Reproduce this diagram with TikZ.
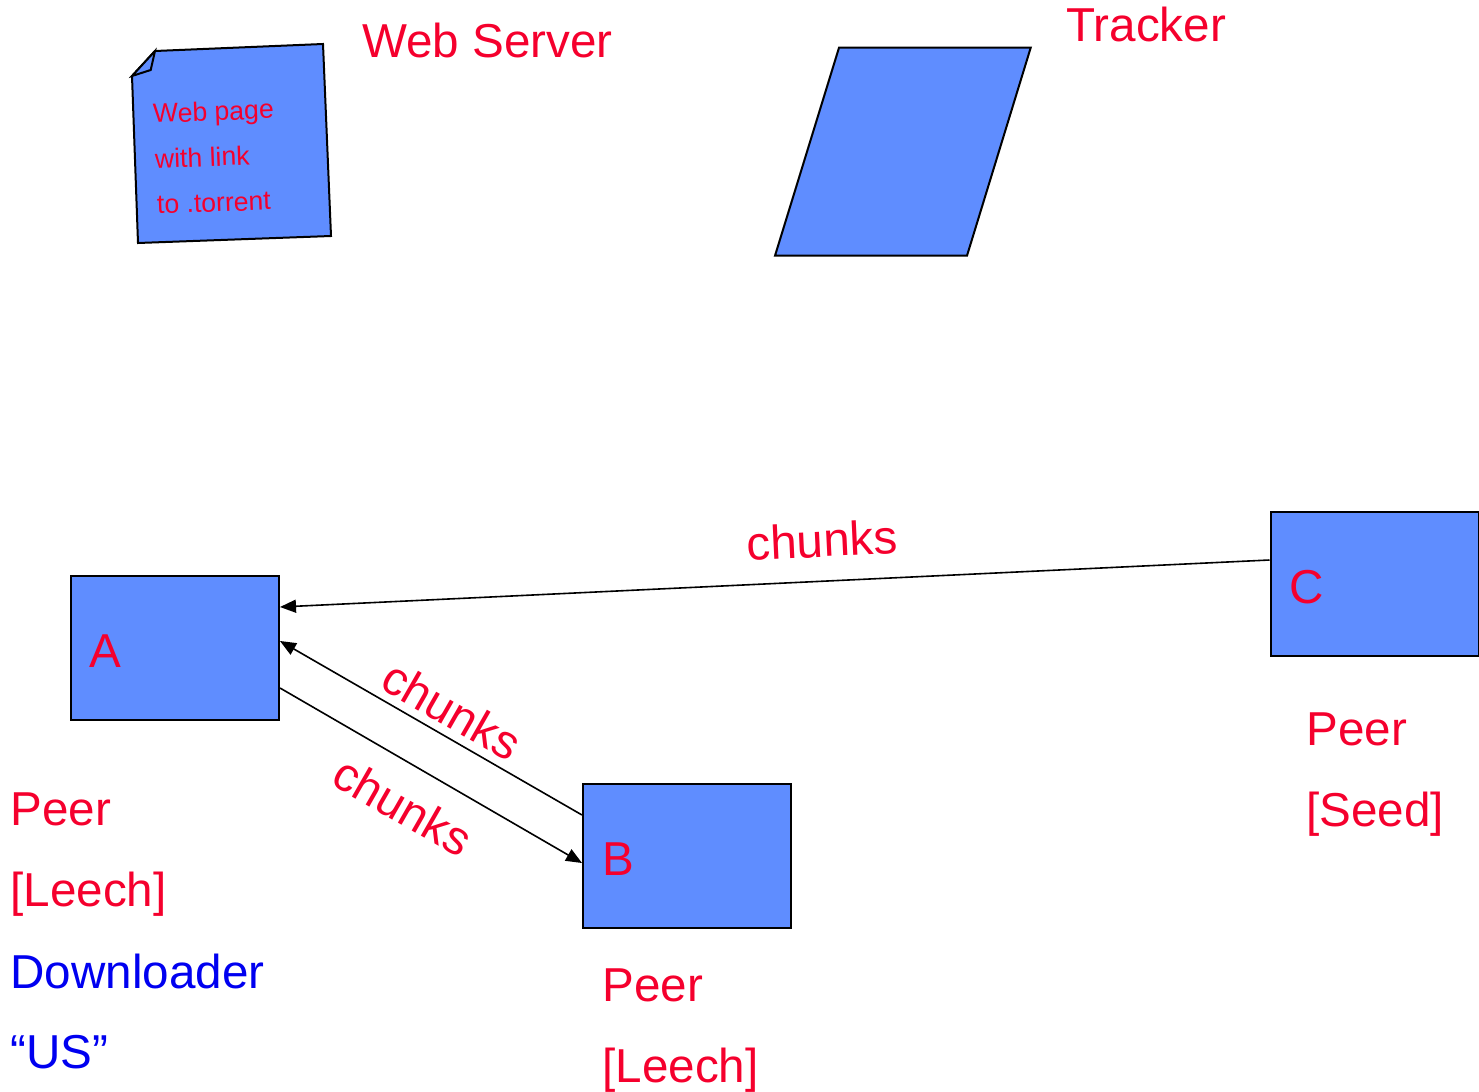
\documentclass[tikz,border=0pt]{standalone}
\usepackage{fontspec}
\setmainfont{Liberation Sans}
\usetikzlibrary{arrows.meta}
\definecolor{boxblue}{RGB}{95,141,255}
\definecolor{txtred}{RGB}{245,0,45}
\definecolor{txtblue}{RGB}{0,0,240}
\tikzset{
  peerbox/.style={draw=black, line width=1pt, fill=boxblue, minimum width=104pt, minimum height=72pt, inner sep=0pt},
  bigtxt/.style={font=\fontsize{23.8pt}{28pt}\selectfont, text=txtred, inner sep=0pt, anchor=base west},
  bluetxt/.style={bigtxt, text=txtblue},
  notetxt/.style={font=\fontsize{13.3pt}{15pt}\selectfont, text=txtred, inner sep=0pt, anchor=base west, rotate=2.2},
  chunklbl/.style={font=\fontsize{23.8pt}{28pt}\selectfont, text=txtred, inner sep=0pt, anchor=center},
  conn/.style={line width=0.8pt, -{Triangle[length=8pt,width=6.5pt]}},
  shapeline/.style={draw=black, line width=1pt, fill=boxblue, line join=miter}
}
\begin{document}
\begin{tikzpicture}[x=0.5pt, y=-0.5pt]
\useasboundingbox (0,0) rectangle (1479,1092);

% Web page note
\draw[shapeline] (155,51) -- (323,44) -- (331,236) -- (138,243) -- (132,76) -- cycle;
\draw[shapeline] (155,51) -- (150.7,70) -- (132,76) -- cycle;
\node[notetxt] (np1) at (153,123) {Web page};
\node[notetxt] (np2) at (155,168.5) {with link};
\node[notetxt] (np3) at (157,214) {to .torrent};
\node[bigtxt] (ws) at (362,57.5) {Web Server};

% Tracker
\draw[shapeline] (839,47.7) -- (1030.7,47.7) -- (967,255.7) -- (775,255.7) -- cycle;
\node[bigtxt] (tr) at (1066,41.5) {Tracker};

% Peers
\node[peerbox] (A) at (175,647.5) {};
\node[peerbox] (B) at (687,856) {};
\node[peerbox] (C) at (1374.5,584) {};
\node[bigtxt] (lA) at (89,667) {A};
\node[bigtxt] (lB) at (602,875) {B};
\node[bigtxt] (lC) at (1289,603) {C};

% Connectors
\draw[conn] ([yshift=12pt]C.west) -- ([yshift=20.25pt]A.east);
\draw[conn] ([yshift=20.5pt]B.west) -- ([yshift=3.25pt]A.east);
\draw[conn] ([yshift=-20.25pt]A.east) -- ([yshift=-3.5pt]B.west);

\node[chunklbl, rotate=2.7] (k1) at (822,540) {chunks};
\node[chunklbl, rotate=-29.8] (k2) at (452,710) {chunks};
\node[chunklbl, rotate=-29.8] (k3) at (403,806) {chunks};

% Labels
\node[bigtxt] (pa1) at (10,825) {Peer};
\node[bigtxt] (pa2) at (10,906) {[Leech]};
\node[bluetxt] (pa3) at (10,988) {Downloader};
\node[bluetxt] (pa4) at (10,1068) {“US”};

\node[bigtxt] (pb1) at (602,1001) {Peer};
\node[bigtxt] (pb2) at (602,1082) {[Leech]};

\node[bigtxt] (pc1) at (1306,745) {Peer};
\node[bigtxt] (pc2) at (1306,826) {[Seed]};
\end{tikzpicture}
\end{document}
